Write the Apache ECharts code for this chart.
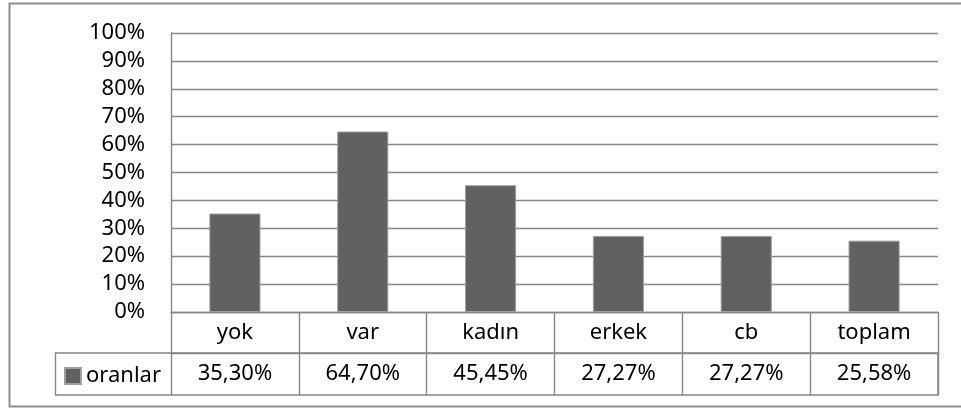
<!DOCTYPE html>
<html>
<head>
<meta charset="utf-8">
<script src="https://cdn.jsdelivr.net/npm/echarts@6/dist/echarts.min.js"></script>
<style>
  html, body { margin: 0; padding: 0; background: #fff; }
  #chart { width: 961px; height: 408px; }
</style>
</head>
<body>
<div id="chart"></div>
<script>
const categories = ['yok', 'var', 'kadın', 'erkek', 'cb', 'toplam']
const oranlar = [35.30, 64.70, 45.45, 27.27, 27.27, 25.58]
const yTicks = [0, 10, 20, 30, 40, 50, 60, 70, 80, 90, 100]

const lineColor = '#868686'
const font = 'Noto Sans'
const fontSize = 22

// tablo satırı: 35,30% gibi
const valueLabels = oranlar.map(v => v.toFixed(2).replace('.', ',') + '%')

const chart = echarts.init(document.getElementById('chart'))

chart.setOption({
  animation: false,
  textStyle: { fontFamily: font },
  grid: { left: 171, right: 23, top: 33, bottom: 96 },
  legend: {
    left: 59,
    top: 360,
    icon: 'rect',
    itemWidth: 16,
    itemHeight: 16,
    itemGap: 5,
    textStyle: { fontSize: fontSize, color: '#000', fontFamily: font },
    data: ['oranlar'],
  },
  xAxis: [
    {
      type: 'category',
      data: categories,
      axisLine: { show: true, lineStyle: { color: lineColor, width: 1.4 } },
      axisTick: { show: true, length: 83, lineStyle: { color: lineColor, width: 1.4 } },
      axisLabel: { fontSize: fontSize, color: '#000', margin: 10, fontFamily: font },
    },
    {
      type: 'category',
      position: 'bottom',
      offset: 41,
      data: valueLabels,
      axisLine: { show: true, lineStyle: { color: lineColor, width: 1.4 } },
      axisTick: { show: false },
      axisLabel: { fontSize: fontSize, color: '#000', margin: 10, fontFamily: font },
    },
  ],
  yAxis: {
    type: 'value',
    min: yTicks[0],
    max: yTicks[yTicks.length - 1],
    interval: 10,
    axisLine: { show: true, lineStyle: { color: lineColor, width: 1.4 } },
    axisTick: { show: false },
    axisLabel: { fontSize: fontSize, color: '#000', margin: 26, formatter: '{value}%', fontFamily: font },
    splitLine: { show: true, lineStyle: { color: lineColor, width: 1.4 } },
  },
  series: [
    {
      name: 'oranlar',
      type: 'bar',
      barWidth: '40%',
      data: oranlar,
      itemStyle: { color: '#616161', borderColor: '#a0a0a0', borderWidth: 1 },
    },
  ],
  graphic: [
    {
      type: 'rect',
      silent: true,
      shape: { x: 9.5, y: 3.5, width: 980, height: 403 },
      style: { fill: 'none', stroke: '#8c8c8c', lineWidth: 2 },
    },
    {
      type: 'rect',
      silent: true,
      shape: { x: 55.5, y: 353, width: 882.5, height: 42 },
      style: { fill: 'none', stroke: lineColor, lineWidth: 1.4 },
    },
  ],
})
</script>
</body>
</html>
